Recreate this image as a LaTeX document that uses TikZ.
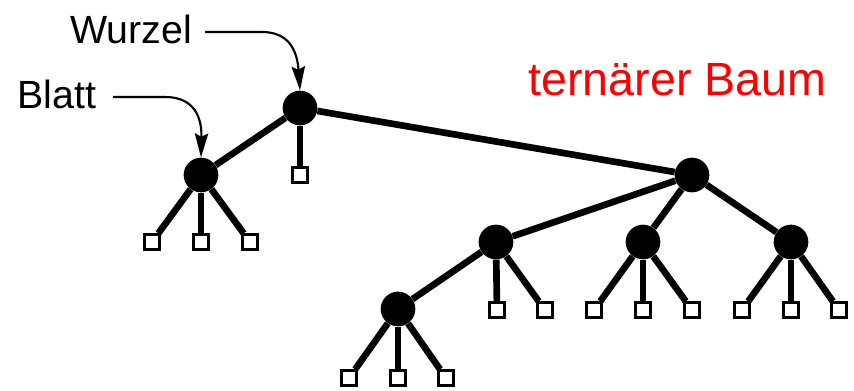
\documentclass[tikz,border=0pt]{standalone}
\usepackage{fontspec}
\setmainfont{Liberation Sans}
\usetikzlibrary{arrows.meta}
\begin{document}
\begin{tikzpicture}[x=0.75pt,y=-0.75pt,
  inner/.style={circle,fill=black,inner sep=0pt,minimum size=26pt},
  leaf/.style={rectangle,draw=black,fill=white,line width=2pt,inner sep=0pt,minimum size=11pt},
  edge/.style={line width=5pt},
  lbl/.style={anchor=base west,inner sep=0pt,font=\fontsize{29.5pt}{32pt}\selectfont},
  pointer/.style={line width=1.6pt,-{Stealth[length=18pt,width=10pt,inset=2.5pt]}}]
\useasboundingbox (0,0) rectangle (854,390);
% inner nodes
\node[inner] (R) at (300,108) {};
\node[inner] (A) at (201,175) {};
\node[inner] (B) at (692,175) {};
\node[inner] (C) at (496,242) {};
\node[inner] (D) at (643,242) {};
\node[inner] (E) at (791,242) {};
\node[inner] (F) at (398,309) {};
% leaves
\node[leaf] (r1) at (300,175) {};
\node[leaf] (a1) at (152,242) {};
\node[leaf] (a2) at (201,242) {};
\node[leaf] (a3) at (250,242) {};
\node[leaf] (c2) at (497,310) {};
\node[leaf] (c3) at (545,310) {};
\node[leaf] (d1) at (594,310) {};
\node[leaf] (d2) at (643,310) {};
\node[leaf] (d3) at (692,310) {};
\node[leaf] (e1) at (742,310) {};
\node[leaf] (e2) at (791,310) {};
\node[leaf] (e3) at (839,310) {};
\node[leaf] (f1) at (349,378) {};
\node[leaf] (f2) at (398,378) {};
\node[leaf] (f3) at (446,378) {};
% edges
\foreach \u/\v in {R/A,R/r1,R/B,A/a1,A/a2,A/a3,B/C,B/D,B/E,C/F,C/c2,C/c3,D/d1,D/d2,D/d3,E/e1,E/e2,E/e3,F/f1,F/f2,F/f3}
  \draw[edge] (\u) -- (\v);
% labels
\node[lbl] (wz) at (70,43) {Wurzel};
\node[lbl] (bl) at (17,108) {Blatt};
\node[lbl,text=red,font=\fontsize{35pt}{38pt}\selectfont] (tb) at (528,95) {ternärer Baum};
\draw[pointer] (205,32) -- (262,32) .. controls (287,32) and (297,48) .. (R.north);
\draw[pointer] (113,97) -- (165,97) .. controls (190,97) and (202,112) .. (A.north);
\end{tikzpicture}
\end{document}
